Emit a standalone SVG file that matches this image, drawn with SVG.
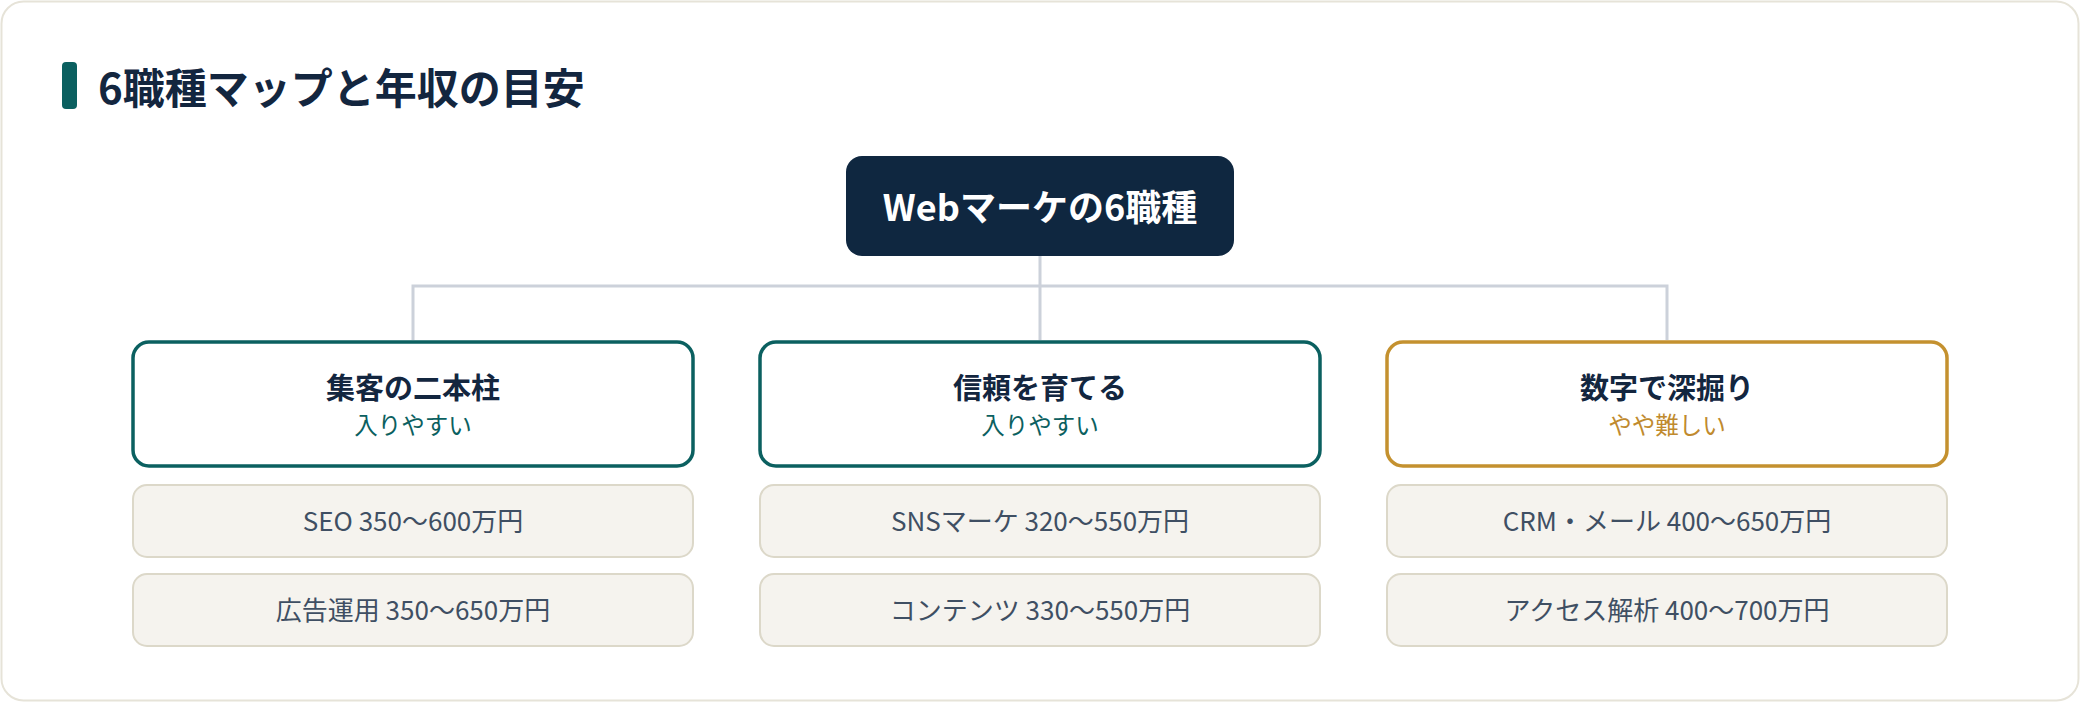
<svg xmlns="http://www.w3.org/2000/svg" width="2080" height="702" viewBox="0 0 2080 702">
<style>
text{font-family:"Noto Sans CJK JP","Noto Sans",sans-serif;}
.title{font-size:42px;font-weight:700;fill:#13263f;}
.root{font-size:36px;font-weight:700;fill:#ffffff;}
.cat{fill:#ffffff;stroke-width:3.5;}
.teal{stroke:#0b6060;}
.gold{stroke:#c4912f;}
.cath{font-size:29px;font-weight:700;fill:#13263f;text-anchor:middle;}
.cats{font-size:23.5px;font-weight:400;text-anchor:middle;}
.sal{fill:#f5f3ee;stroke:#dcd8c9;stroke-width:2;}
.salt{font-size:26px;font-weight:400;fill:#3f4f63;text-anchor:middle;}
.conn{fill:none;stroke:#ccd1da;stroke-width:3;}
</style>
<rect x="1.5" y="1.5" width="2077" height="699" rx="22" fill="#ffffff" stroke="#e6e3d8" stroke-width="2"/>
<g id="heading">
<rect x="62" y="62" width="15" height="47" rx="4" fill="#0b6060"/>
<text class="title" x="98" y="104">6職種マップと年収の目安</text>
</g>
<g id="connectors">
<path class="conn" d="M1040 256 V286 M413 340 V286 H1667 V340 M1040 286 V340"/>
</g>
<g id="root">
<rect x="846" y="156" width="388" height="100" rx="16" fill="#0f2740"/>
<text class="root" x="1040" y="221" text-anchor="middle">Webマーケの6職種</text>
</g>
<g id="cat1">
<rect class="cat teal" x="133" y="342" width="560" height="124" rx="16"/>
<text class="cath" x="413" y="399">集客の二本柱</text>
<text class="cats" x="413" y="434" fill="#0b6060">入りやすい</text>
</g>
<g id="cat2">
<rect class="cat teal" x="760" y="342" width="560" height="124" rx="16"/>
<text class="cath" x="1040" y="399">信頼を育てる</text>
<text class="cats" x="1040" y="434" fill="#0b6060">入りやすい</text>
</g>
<g id="cat3">
<rect class="cat gold" x="1387" y="342" width="560" height="124" rx="16"/>
<text class="cath" x="1667" y="399">数字で深掘り</text>
<text class="cats" x="1667" y="434" fill="#c08a2e">やや難しい</text>
</g>
<g id="seo">
<rect class="sal" x="133" y="485" width="560" height="72" rx="14"/>
<text class="salt" x="413" y="531">SEO 350〜600万円</text>
</g>
<g id="ads">
<rect class="sal" x="133" y="574" width="560" height="72" rx="14"/>
<text class="salt" x="413" y="620">広告運用 350〜650万円</text>
</g>
<g id="sns">
<rect class="sal" x="760" y="485" width="560" height="72" rx="14"/>
<text class="salt" x="1040" y="531">SNSマーケ 320〜550万円</text>
</g>
<g id="content">
<rect class="sal" x="760" y="574" width="560" height="72" rx="14"/>
<text class="salt" x="1040" y="620">コンテンツ 330〜550万円</text>
</g>
<g id="crm">
<rect class="sal" x="1387" y="485" width="560" height="72" rx="14"/>
<text class="salt" x="1667" y="531">CRM・メール 400〜650万円</text>
</g>
<g id="analytics">
<rect class="sal" x="1387" y="574" width="560" height="72" rx="14"/>
<text class="salt" x="1667" y="620">アクセス解析 400〜700万円</text>
</g>
</svg>
